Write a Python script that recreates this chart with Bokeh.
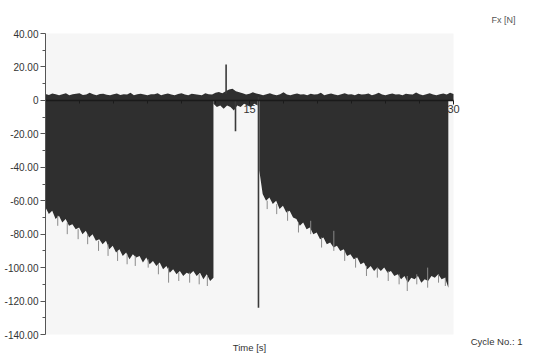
import numpy as np
from bokeh.plotting import figure
from bokeh.models import Range1d, FixedTicker, Label
from bokeh.embed import file_html
from bokeh.resources import INLINE

# ---------------- data ----------------
x_lim = [0, 30]
y_lim = [-140, 40]
x_ticks = [15, 30]
x_minor = [2.5, 5, 7.5, 10, 12.5, 17.5, 20, 22.5, 25, 27.5]
y_ticks = [40, 20, 0, -20, -40, -60, -80, -100, -120, -140]
y_tick_labels = ["40.00", "20.00", "0", "-20.00", "-40.00", "-60.00",
                 "-80.00", "-100.00", "-120.00", "-140.00"]
y_minor = [30, 10, -10, -30, -50, -70, -90, -110, -130]

# positive noise band over the whole record (every 0.25 s, 0..30 s)
band_t = np.arange(0, 30.001, 0.25)
band_high = [3.8, 3.2, 4.1, 3.6, 3.0, 3.7, 4.3, 3.1, 3.6, 3.9,
             4.2, 3.2, 3.5, 4.6, 3.7, 3.1, 3.8, 4.0, 3.4, 3.0,
             3.6, 4.1, 3.2, 3.7, 3.5, 4.5, 3.1, 3.6, 4.0, 3.5,
             3.0, 3.7, 3.6, 4.2, 3.1, 3.6, 4.1, 3.5, 3.0, 3.8,
             4.3, 3.5, 3.1, 4.0, 3.6, 3.4, 3.0, 4.2, 3.6, 3.5,
             4.5, 5.0, 4.2, 5.5, 6.5, 7.0, 5.5, 4.8, 4.2, 3.5, 4.0, 4.8, 4.1,
             3.6, 3.1, 3.7, 4.2, 3.5, 3.0, 3.6, 4.8, 3.5, 3.1,
             3.6, 4.1, 3.5, 3.6, 3.0, 4.0, 3.5, 3.6, 4.5, 3.1,
             3.7, 4.1, 3.5, 3.0, 3.6, 4.2, 3.5, 3.7, 3.1, 4.0,
             3.5, 3.6, 4.1, 3.0, 3.7, 4.6, 3.5, 3.1, 3.6, 4.1,
             3.5, 3.7, 3.1, 4.0, 3.6, 3.5, 4.7, 3.6, 3.1, 3.7,
             4.2, 3.5, 3.1, 3.7, 4.1, 3.5, 4.6, 3.8]

# small negative noise in the pause between the two blocks
gap_t = [12.35, 12.6, 12.85, 13.1, 13.35, 13.6, 13.85, 14.1, 14.35, 14.6,
         14.85, 15.1, 15.35, 15.6]
gap_low = [-2, -4, -3, -5, -3, -4, -6, -3, -4, -2, -3, -4, -2, -3]

# first loading block: lower envelope of Fx
left_t = np.linspace(0, 12.35, 51)
left_low = [-64, -68, -66, -71, -69, -73, -71, -75, -74, -77,
            -76, -80, -78, -82, -80, -84, -83, -86, -84, -89,
            -87, -91, -89, -93, -91, -95, -92, -94, -93, -97,
            -94, -98, -96, -99, -97, -101, -99, -103, -101, -104,
            -102, -105, -103, -104, -102, -105, -103, -107, -104, -108,
            -106]

# second loading block: lower envelope of Fx
right_t = np.linspace(15.72, 29.62, 57)
right_low = [-42, -56, -60, -58, -62, -60, -65, -63, -67, -66,
             -70, -71, -75, -73, -77, -76, -80, -79, -83, -82,
             -86, -85, -88, -87, -90, -89, -93, -92, -95, -94,
             -98, -97, -101, -99, -102, -100, -102, -100, -103, -102,
             -105, -104, -107, -105, -109, -106, -107, -105, -109, -107,
             -108, -105, -106, -104, -107, -106, -112]

# isolated spikes
spike_t = [13.28, 13.97, 15.66]
spike_from = [4, 0, 2]
spike_to = [21.5, -18.5, -124]

# thin lighter spikes below the envelopes
tail_t = [0.9, 1.6, 2.4, 3.1, 3.9, 4.6, 5.3, 6.0, 6.6, 7.55, 8.3, 9.05,
          9.8, 10.6, 11.3, 11.9,
          16.3, 17.0, 17.8, 18.6, 19.5, 20.3, 21.2, 22.0, 22.8, 23.6,
          24.4, 25.2, 26.0, 26.6, 27.3, 28.1, 28.9, 29.4]
tail_from = [-69, -73, -77, -80, -84, -86, -90, -92, -93, -95, -98, -100,
             -103, -103, -104, -105,
             -60, -62, -66, -73, -72, -82, -78, -90, -94, -99,
             -100, -102, -104, -105, -104, -100, -104, -106]
tail_to = [-75, -80, -83, -86, -90, -93, -96, -98, -99, -100, -104, -109,
           -108, -109, -110, -111,
           -65, -68, -72, -79, -80, -88, -90, -96, -100, -105,
           -106, -108, -110, -114, -110, -112, -109, -111]

# ---------------- figure ----------------
FONT = "Liberation Sans"
DARK = "#2f2f2f"

# plot frame covers the whole canvas; ranges chosen so that the data area
# (0..30 s, -140..40 N) lands at 45..453 px horizontally and 33..334 px vertically
px_x = 408 / (x_lim[1] - x_lim[0])
px_y = 301 / (y_lim[1] - y_lim[0])
p = figure(width=534, height=354, output_backend="svg", toolbar_location=None,
           x_range=Range1d(x_lim[0] - 45 / px_x, x_lim[1] + 81 / px_x),
           y_range=Range1d(y_lim[0] - 20 / px_y, y_lim[1] + 33 / px_y),
           min_border=0, min_border_left=0, min_border_right=0,
           min_border_top=0, min_border_bottom=0,
           background_fill_color="white", border_fill_color="white",
           outline_line_color=None)
p.grid.visible = False

# plot-area background
p.quad(left=[x_lim[0]], right=[x_lim[1]], bottom=[y_lim[0]], top=[y_lim[1]],
       fill_color="#f6f6f6", line_color=None)

p.varea(x=band_t, y1=0, y2=band_high, fill_color=DARK)
p.varea(x=gap_t, y1=gap_low, y2=0, fill_color=DARK)
p.varea(x=left_t, y1=left_low, y2=0, fill_color=DARK)
p.varea(x=right_t, y1=right_low, y2=0, fill_color=DARK)
p.segment(x0=tail_t, y0=tail_from, x1=tail_t, y1=tail_to,
          line_color="#8a8a8a", line_width=1)
p.segment(x0=spike_t, y0=spike_from, x1=spike_t, y1=spike_to,
          line_color="#3a3a3a", line_width=1.6)

# x axis crossing at zero
xa = p.xaxis[0]
xa.fixed_location = 0
xa.bounds = (x_lim[0], x_lim[1])
xa.ticker = FixedTicker(ticks=x_ticks, minor_ticks=x_minor)
xa.axis_line_color = "#1a1a1a"
xa.axis_line_width = 1.5
xa.major_tick_line_color = "#1a1a1a"
xa.minor_tick_line_color = "#1a1a1a"
xa.major_tick_out = 4
xa.major_tick_in = 0
xa.minor_tick_out = 3
xa.minor_tick_in = 0
xa.major_label_text_font = FONT
xa.major_label_text_font_size = "11px"
xa.major_label_text_color = "#333333"
xa.major_label_standoff = 1

# y axis at t = 0
ya = p.yaxis[0]
ya.fixed_location = x_lim[0]
ya.bounds = (y_lim[0], y_lim[1])
ya.ticker = FixedTicker(ticks=y_ticks, minor_ticks=y_minor)
ya.major_label_overrides = {t: s for t, s in zip(y_ticks, y_tick_labels)}
ya.axis_line_color = "#555555"
ya.major_tick_line_color = "#555555"
ya.minor_tick_line_color = "#555555"
ya.major_tick_out = 5
ya.major_tick_in = 0
ya.minor_tick_out = 3
ya.minor_tick_in = 0
ya.major_label_text_font = FONT
ya.major_label_text_font_size = "10px"
ya.major_label_text_color = "#333333"
ya.major_label_standoff = 2

p.add_layout(Label(x=34.56, y=47.8, text="Fx [N]", text_align="right",
                   text_baseline="middle", text_font=FONT,
                   text_font_size="9px", text_color="#555555"))
p.add_layout(Label(x=35.07, y=-144.1, text="Cycle No.: 1", text_align="right",
                   text_baseline="middle", text_font=FONT,
                   text_font_size="9.5px", text_color="#333333"))
p.add_layout(Label(x=15, y=-147.7, text="Time [s]", text_align="center",
                   text_baseline="middle", text_font=FONT,
                   text_font_size="9.5px", text_color="#333333"))

open("out.html", "w").write(file_html(p, INLINE))
